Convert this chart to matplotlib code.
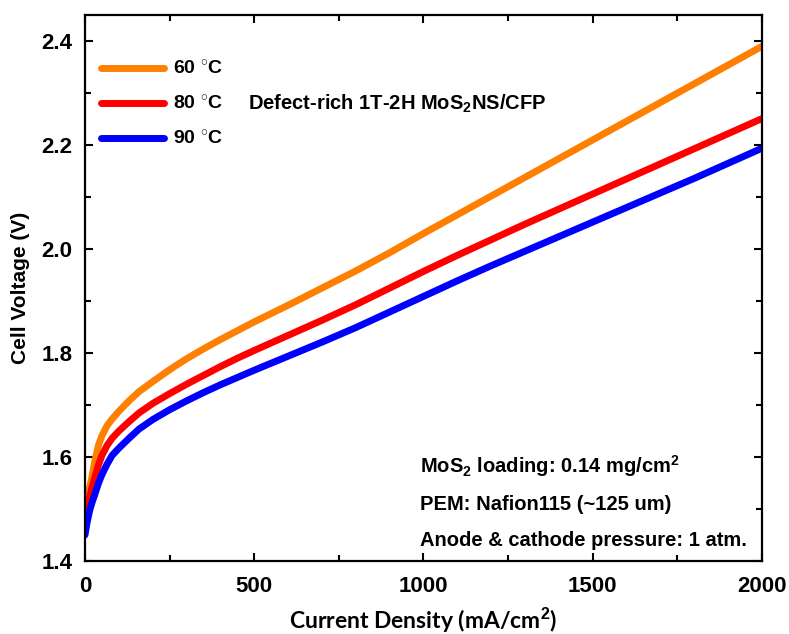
import matplotlib
matplotlib.use("Agg")
import matplotlib.pyplot as plt
from matplotlib.ticker import MultipleLocator

plt.rcParams["font.family"] = ["Liberation Sans", "DejaVu Sans"]
plt.rcParams["font.weight"] = "bold"
plt.rcParams["mathtext.fontset"] = "custom"
plt.rcParams["mathtext.rm"] = "Liberation Sans:bold"
plt.rcParams["mathtext.bf"] = "Liberation Sans:bold"
plt.rcParams["mathtext.default"] = "rm"

# current density (mA/cm2) and cell voltage (V)
current = [0, 3, 6, 10, 15, 20, 30, 40, 50, 65, 80, 100, 130, 160, 200, 250, 300,
           350, 400, 450, 500, 600, 700, 800, 900, 1000, 1100, 1200, 1300, 1400,
           1500, 1600, 1700, 1800, 1900, 2000]
v_60 = [1.490, 1.505, 1.518, 1.530, 1.545, 1.560, 1.595, 1.623, 1.641, 1.660, 1.673,
        1.688, 1.708, 1.726, 1.745, 1.768, 1.789, 1.808, 1.826, 1.843, 1.860, 1.892,
        1.925, 1.958, 1.993, 2.030, 2.066, 2.102, 2.138, 2.174, 2.210, 2.246, 2.282,
        2.318, 2.354, 2.390]
v_80 = [1.482, 1.492, 1.502, 1.513, 1.527, 1.540, 1.563, 1.585, 1.603, 1.622, 1.636,
        1.650, 1.668, 1.685, 1.703, 1.722, 1.740, 1.757, 1.774, 1.790, 1.805, 1.834,
        1.863, 1.893, 1.925, 1.957, 1.988, 2.018, 2.048, 2.077, 2.106, 2.135, 2.164,
        2.193, 2.222, 2.251]
v_90 = [1.450, 1.462, 1.473, 1.486, 1.500, 1.511, 1.530, 1.550, 1.566, 1.586, 1.603,
        1.617, 1.636, 1.654, 1.672, 1.691, 1.708, 1.724, 1.739, 1.753, 1.767, 1.794,
        1.821, 1.849, 1.879, 1.909, 1.939, 1.968, 1.996, 2.024, 2.052, 2.080, 2.108,
        2.136, 2.165, 2.194]

labels = ["60 $^{\\circ}$C", "80 $^{\\circ}$C", "90 $^{\\circ}$C"]
colors = ["#FF8000", "#FF0000", "#0000FF"]

fig = plt.figure(figsize=(7.89, 6.34), dpi=100)
ax = fig.add_axes([0.1077, 0.1151, 0.858, 0.861])

for v, lab, c in zip([v_60, v_80, v_90], labels, colors):
    ax.plot(current, v, color=c, lw=5, label=lab, solid_capstyle="round",
            solid_joinstyle="round")

ax.set_xlim(0, 2000)
ax.set_ylim(1.4, 2.45)
ax.xaxis.set_major_locator(MultipleLocator(500))
ax.xaxis.set_minor_locator(MultipleLocator(250))
ax.yaxis.set_major_locator(MultipleLocator(0.2))
ax.yaxis.set_minor_locator(MultipleLocator(0.1))
ax.yaxis.set_major_formatter(plt.FormatStrFormatter("%.1f"))

for s in ax.spines.values():
    s.set_linewidth(1.6)
ax.tick_params(which="both", direction="in", top=True, right=True, width=1.5)
ax.tick_params(which="major", length=6, pad=9)
ax.tick_params(which="minor", length=4)
ax.tick_params(axis="x", which="major", pad=11)
for t in ax.get_xticklabels() + ax.get_yticklabels():
    t.set_fontsize(16)
    t.set_fontweight("bold")

ax.set_ylabel("Cell Voltage (V)", fontsize=15, fontweight="bold", labelpad=8)
ax.set_xlabel("Current Density (mA/cm$^2$)", fontsize=16.5, fontweight="bold",
              family=["Lato", "DejaVu Sans"], labelpad=6)

leg = ax.legend(loc="upper left", frameon=False, fontsize=14, handlelength=3.25,
                handletextpad=0.5, labelspacing=0.85, bbox_to_anchor=(0.0, 0.945),
                borderaxespad=0.4)

ax.text(0.241, 0.837, "Defect-rich 1T-2H MoS$_2$NS/CFP", transform=ax.transAxes,
        fontsize=14.5, fontweight="bold", va="center", ha="left")
notes = ["MoS$_2$ loading: 0.14 mg/cm$^2$", "PEM: Nafion115 (~125 um)",
         "Anode & cathode pressure: 1 atm."]
for txt, y in zip(notes, [0.174, 0.104, 0.037]):
    ax.text(0.495, y, txt, transform=ax.transAxes, fontsize=14.5,
            fontweight="bold", va="center", ha="left")

fig.savefig("out.png", dpi=100)
